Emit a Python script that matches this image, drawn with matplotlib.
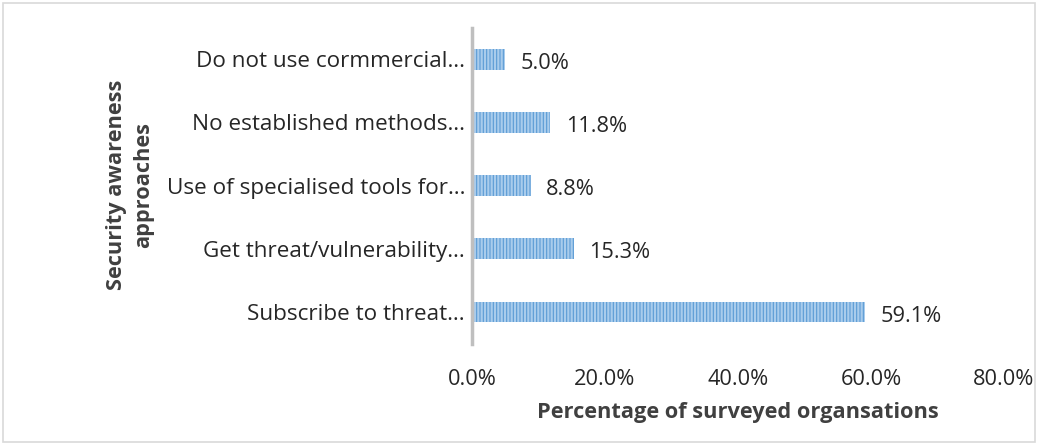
import matplotlib.pyplot as plt
from matplotlib.patches import Rectangle

plt.rcParams['font.family'] = ['Open Sans', 'DejaVu Sans']
plt.rcParams['hatch.linewidth'] = 1.6

approaches = ['Subscribe to threat…',
              'Get threat/vulnerability…',
              'Use of specialised tools for…',
              'No established methods…',
              'Do not use cormmercial…']
share = [59.1, 15.3, 8.8, 11.8, 5.0]

fig = plt.figure(figsize=(10.39, 4.45), dpi=100)
ax = fig.add_axes([0.4543, 0.228, 0.512, 0.71])

pos = range(len(approaches))
ax.barh(pos, share, height=0.33, color='#5B9BD5', edgecolor='#A9CCEC', linewidth=0,
        hatch='|||||')
for y, v in zip(pos, share):
    ax.annotate(f'{v:.1f}%', (v, y), xytext=(11, -3), textcoords='offset points',
                ha='left', va='center', fontsize=15.7, color='#262626')

ax.set_xlim(0, 80)
ax.set_ylim(-0.5, len(approaches) - 0.5)
ax.set_xticks([0, 20, 40, 60, 80])
ax.set_xticklabels([f'{t:.1f}%' for t in [0, 20, 40, 60, 80]])
ax.set_yticks(list(pos))
ax.set_yticklabels(approaches)
ax.tick_params(axis='x', length=0, pad=18, labelsize=15.7, labelcolor='#262626')
ax.tick_params(axis='y', length=0, pad=5, labelsize=16.2, labelcolor='#262626')

for s in ['top', 'right', 'bottom']:
    ax.spines[s].set_visible(False)
ax.spines['left'].set_color('#BFBFBF')
ax.spines['left'].set_linewidth(2.5)

ax.set_xlabel('Percentage of surveyed organsations', fontsize=15.7, fontweight='bold',
              color='#404040', labelpad=9)
fig.text(0.125, 0.584, 'Security awareness\napproaches', rotation=90, ha='center', va='center',
         fontsize=15.7, fontweight='bold', color='#404040', linespacing=1.4)

fig.patches.append(Rectangle((0.003, 0.007), 0.993, 0.986, transform=fig.transFigure,
                             fill=False, edgecolor='#D9D9D9', linewidth=1.2))

fig.savefig('out.png', dpi=100)
